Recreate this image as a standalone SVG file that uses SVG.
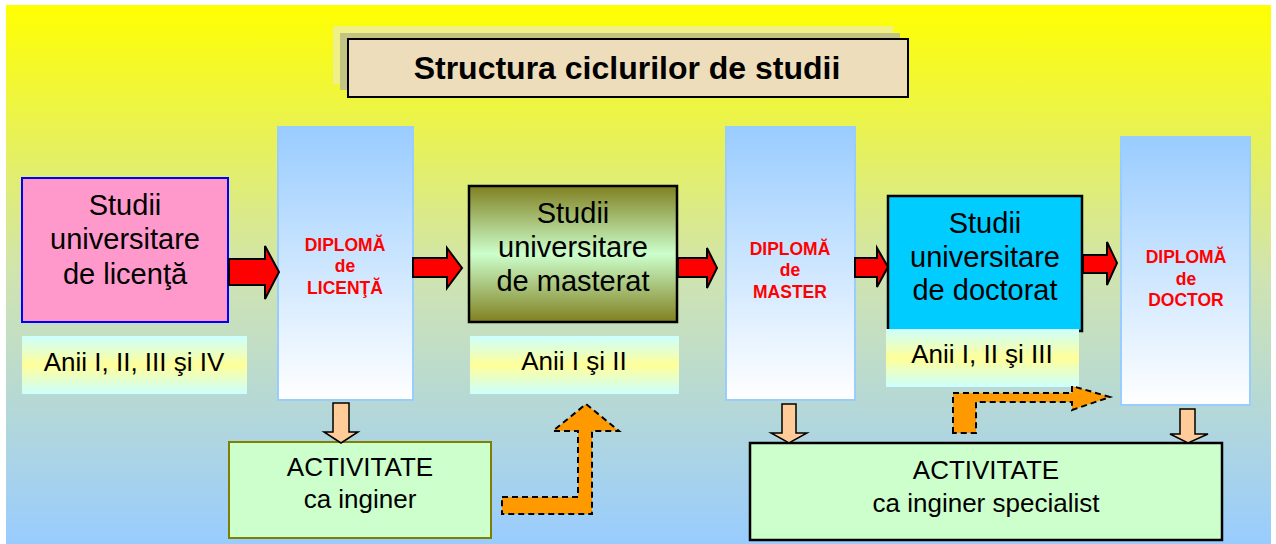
<svg xmlns="http://www.w3.org/2000/svg" width="1276" height="544" viewBox="0 0 1276 544">
<defs>
<linearGradient id="bg" x1="0" y1="0" x2="0" y2="1">
<stop offset="0" stop-color="#FFFF00"/>
<stop offset="0.5" stop-color="#D0E4B0"/>
<stop offset="1" stop-color="#99CCFF"/>
</linearGradient>
<linearGradient id="dipl" x1="0" y1="0" x2="0" y2="1">
<stop offset="0" stop-color="#99CCFF"/>
<stop offset="1" stop-color="#FFFFFF"/>
</linearGradient>
<linearGradient id="anii" x1="0" y1="0" x2="0" y2="1">
<stop offset="0" stop-color="#CCFFFF"/>
<stop offset="0.5" stop-color="#FFFF99"/>
<stop offset="1" stop-color="#CCFFFF"/>
</linearGradient>
<linearGradient id="olive" x1="0" y1="0" x2="0" y2="1">
<stop offset="0" stop-color="#808020"/>
<stop offset="0.5" stop-color="#CCFFCC"/>
<stop offset="1" stop-color="#808020"/>
</linearGradient>
<style>
.t{font-family:"Liberation Sans",Arial,sans-serif;fill:#000;text-anchor:middle}
.big{font-size:29px}
.mid{font-size:26px}
.dip{font-family:"Liberation Sans",Arial,sans-serif;font-weight:bold;font-size:17.5px;fill:#FF0000;text-anchor:middle}
.dbox{fill:url(#dipl);stroke:#99CCFF;stroke-width:2}
.abox{fill:url(#anii);stroke:none}
.red{fill:#FF0000;stroke:#000;stroke-width:2;stroke-linejoin:miter}
.peach{fill:#FFCC99;stroke:#000;stroke-width:1.5}
.orange{fill:#FF9900;stroke:#000;stroke-width:2;stroke-dasharray:6 4}
.act{fill:#CCFFCC}
</style>
</defs>
<rect x="6" y="5" width="1265" height="539" fill="url(#bg)"/>
<g id="title">
<rect x="333" y="26" width="560" height="58" fill="#F0F088"/>
<rect x="340" y="33" width="560" height="57" fill="#C4C482"/>
<rect x="348" y="39" width="560" height="58" fill="#EEDDBB" stroke="#000" stroke-width="2"/>
<text x="627" y="79" class="t" style="font-weight:bold;font-size:32px">Structura ciclurilor de studii</text>
</g>
<g id="licenta">
<rect x="22" y="178" width="206" height="144" fill="#FF99CC" stroke="#0000FF" stroke-width="2"/>
<text class="t big" x="125" y="215">Studii</text>
<text class="t big" x="125" y="249">universitare</text>
<text class="t big" x="125" y="284">de licenţă</text>
</g>
<g id="anii-licenta">
<rect class="abox" x="22" y="336" width="225" height="58"/>
<text class="t mid" x="134" y="371">Anii I, II, III şi IV</text>
</g>
<g id="diploma-licenta">
<rect class="dbox" x="278" y="127" width="135" height="273"/>
<text class="dip" x="345" y="251">DIPLOMĂ</text>
<text class="dip" x="345" y="272">de</text>
<text class="dip" x="345" y="294">LICENŢĂ</text>
</g>
<g id="masterat">
<rect x="469" y="186" width="208" height="136" fill="url(#olive)" stroke="#000" stroke-width="2.5"/>
<text class="t big" x="573" y="223">Studii</text>
<text class="t big" x="573" y="257">universitare</text>
<text class="t big" x="573" y="291">de masterat</text>
</g>
<g id="anii-masterat">
<rect class="abox" x="470" y="336" width="209" height="58"/>
<text class="t mid" x="574" y="370">Anii I şi II</text>
</g>
<g id="diploma-master">
<rect class="dbox" x="726" y="127" width="129" height="273"/>
<text class="dip" x="790" y="255">DIPLOMĂ</text>
<text class="dip" x="790" y="276">de</text>
<text class="dip" x="790" y="298">MASTER</text>
</g>
<g id="doctorat">
<rect x="888" y="196" width="194" height="135" fill="#00CCFF" stroke="#000" stroke-width="2.5"/>
<text class="t big" x="985" y="233">Studii</text>
<text class="t big" x="985" y="267">universitare</text>
<text class="t big" x="985" y="300">de doctorat</text>
</g>
<g id="anii-doctorat">
<rect class="abox" x="886" y="329" width="193" height="58"/>
<text class="t mid" x="982" y="363">Anii I, II şi III</text>
</g>
<g id="diploma-doctor">
<rect class="dbox" x="1121" y="137" width="129" height="268"/>
<text class="dip" x="1186" y="263">DIPLOMĂ</text>
<text class="dip" x="1186" y="285">de</text>
<text class="dip" x="1186" y="306">DOCTOR</text>
</g>
<g id="activitate-inginer">
<rect class="act" x="229" y="442" width="262" height="96" stroke="#808000" stroke-width="2"/>
<text class="t mid" x="360" y="476">ACTIVITATE</text>
<text class="t mid" x="360" y="508">ca inginer</text>
</g>
<g id="activitate-specialist">
<rect class="act" x="750" y="443" width="472" height="97" stroke="#000" stroke-width="2.5"/>
<text class="t mid" x="986" y="479">ACTIVITATE</text>
<text class="t mid" x="986" y="512">ca inginer specialist</text>
</g>
<g id="connectors">
<path class="red" d="M229,259 H265 V246 L279,272 L265,299 V285 H229 Z"/>
<path class="red" d="M413,258 H447 V248 L462,268 L447,288 V277 H413 Z"/>
<path class="red" d="M678,258 H707 V248 L717,268 L707,288 V277 H678 Z"/>
<path class="red" d="M855,258 H877 V248 L888,267 L877,287 V277 H855 Z"/>
<path class="red" d="M1083,255 H1107 V242 L1117,263 L1107,285 V273 H1083 Z"/>
<path class="peach" d="M333,403 H349 V432 H358 L341,443 L324,432 H333 Z"/>
<path class="peach" d="M782,404 H796 V433 H807 L789,443 L771,433 H782 Z"/>
<path class="peach" d="M1180,409 H1195 V434 H1208 L1188,443 L1170,434 H1180 Z"/>
<path class="orange" d="M502,497 H578 V431 H553 L586,404 L619,431 H592 V514 H502 Z"/>
<path class="orange" d="M953,433 V393 H1072 V386 L1110,397 L1072,410 V402 H976 V433 Z"/>
</g>
</svg>
